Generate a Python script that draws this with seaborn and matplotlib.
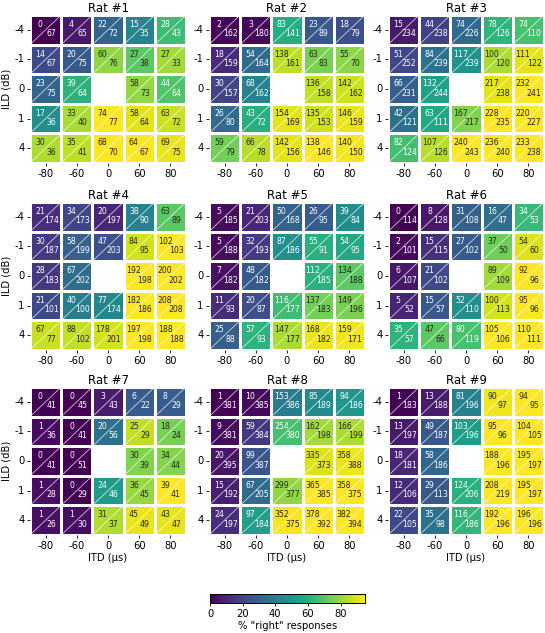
import numpy as np
import pandas as pd
import matplotlib
matplotlib.use("Agg")
from matplotlib import pyplot as plt
import seaborn as sns

# ILD rows (dB) and ITD columns (us); the centre condition (0, 0) was not tested
ILD = [-4, -1, 0, 1, 4]
ITD = [-80, -60, 0, 60, 80]
RATS = ['Rat #1', 'Rat #2', 'Rat #3', 'Rat #4', 'Rat #5', 'Rat #6', 'Rat #7', 'Rat #8', 'Rat #9']

# number of "right" responses / number of trials, per rat
RAT1_RIGHT = [[0, 4, 22, 15, 28], [14, 20, 60, 27, 27], [23, 39, None, 58, 44], [17, 33, 74, 58, 63], [30, 35, 68, 64, 69]]
RAT1_TOTAL = [[67, 65, 72, 35, 43], [67, 75, 76, 38, 33], [75, 64, None, 73, 64], [36, 40, 77, 64, 72], [36, 41, 70, 67, 75]]
RAT2_RIGHT = [[2, 3, 83, 23, 18], [18, 54, 138, 63, 55], [30, 68, None, 136, 142], [26, 43, 154, 135, 146], [59, 66, 142, 138, 140]]
RAT2_TOTAL = [[162, 180, 141, 89, 79], [159, 164, 161, 83, 70], [157, 162, None, 158, 162], [80, 72, 169, 153, 159], [79, 78, 156, 146, 150]]
RAT3_RIGHT = [[15, 44, 74, 78, 74], [51, 84, 117, 100, 111], [66, 132, None, 217, 232], [42, 63, 167, 228, 220], [82, 107, 240, 236, 233]]
RAT3_TOTAL = [[234, 238, 226, 126, 110], [252, 239, 239, 120, 122], [231, 244, None, 238, 241], [121, 111, 217, 235, 227], [124, 126, 243, 240, 238]]
RAT4_RIGHT = [[21, 34, 20, 38, 63], [30, 58, 47, 84, 102], [28, 67, None, 192, 200], [21, 40, 77, 182, 208], [67, 88, 178, 197, 188]]
RAT4_TOTAL = [[174, 173, 197, 90, 89], [187, 199, 203, 95, 103], [183, 202, None, 198, 202], [101, 100, 174, 186, 208], [77, 102, 201, 198, 188]]
RAT5_RIGHT = [[5, 21, 50, 26, 39], [5, 32, 87, 55, 54], [7, 48, None, 112, 134], [11, 20, 116, 137, 149], [25, 57, 147, 168, 159]]
RAT5_TOTAL = [[185, 203, 168, 95, 84], [188, 193, 186, 91, 95], [182, 182, None, 185, 188], [93, 87, 177, 183, 196], [88, 93, 177, 182, 171]]
RAT6_RIGHT = [[0, 8, 31, 16, 34], [2, 15, 27, 37, 54], [6, 21, None, 89, 92], [5, 15, 52, 100, 95], [35, 47, 80, 105, 110]]
RAT6_TOTAL = [[114, 128, 108, 47, 53], [101, 115, 102, 50, 60], [107, 102, None, 109, 96], [52, 57, 110, 113, 96], [57, 66, 119, 106, 111]]
RAT7_RIGHT = [[0, 0, 3, 6, 8], [1, 0, 20, 25, 18], [0, 0, None, 30, 34], [1, 0, 24, 36, 39], [1, 1, 31, 45, 43]]
RAT7_TOTAL = [[41, 45, 43, 22, 29], [36, 41, 56, 29, 24], [41, 51, None, 39, 44], [28, 29, 46, 45, 41], [26, 30, 37, 49, 47]]
RAT8_RIGHT = [[1, 10, 153, 85, 94], [9, 59, 254, 162, 166], [20, 99, None, 335, 358], [15, 67, 299, 365, 358], [24, 97, 352, 378, 382]]
RAT8_TOTAL = [[381, 385, 386, 189, 186], [381, 384, 380, 198, 199], [395, 387, None, 373, 388], [192, 205, 377, 385, 375], [197, 184, 375, 392, 394]]
RAT9_RIGHT = [[1, 13, 81, 90, 94], [13, 49, 103, 95, 104], [18, 58, None, 188, 195], [12, 29, 124, 208, 195], [22, 35, 116, 192, 196]]
RAT9_TOTAL = [[183, 188, 196, 97, 95], [197, 187, 196, 96, 105], [181, 186, None, 196, 197], [106, 113, 206, 219, 197], [105, 98, 186, 196, 196]]

RIGHT = [RAT1_RIGHT, RAT2_RIGHT, RAT3_RIGHT, RAT4_RIGHT, RAT5_RIGHT, RAT6_RIGHT, RAT7_RIGHT, RAT8_RIGHT, RAT9_RIGHT]
TOTAL = [RAT1_TOTAL, RAT2_TOTAL, RAT3_TOTAL, RAT4_TOTAL, RAT5_TOTAL, RAT6_TOTAL, RAT7_TOTAL, RAT8_TOTAL, RAT9_TOTAL]

W, H = 545, 633
fig = plt.figure(figsize=(W / 100, H / 100), dpi=100)

col_x = [30, 209, 388]
row_top = [15, 202, 387]
cw, ch = 156, 148

cax = fig.add_axes([210 / W, 1 - 603 / H, 155 / W, 9 / H])

for k, name in enumerate(RATS):
    r, c = divmod(k, 3)
    ax = fig.add_axes([col_x[c] / W, 1 - (row_top[r] + ch) / H, cw / W, ch / H])
    right = np.array(RIGHT[k], dtype=float)
    total = np.array(TOTAL[k], dtype=float)
    pct = pd.DataFrame(100 * right / total, index=ILD, columns=ITD)

    sns.heatmap(pct, ax=ax, cmap='viridis', vmin=0, vmax=95,
                linewidths=0.8, linecolor='white',
                cbar=(k == 0), cbar_ax=cax if k == 0 else None,
                cbar_kws={'orientation': 'horizontal', 'ticks': [0, 20, 40, 60, 80]})

    for i in range(5):
        for j in range(5):
            if np.isnan(right[i, j]):
                continue
            col = '#262626' if pct.iloc[i, j] >= 70 else 'white'
            ax.plot([j, j + 1], [i + 1, i], color='white', lw=0.6, alpha=0.75)
            ax.text(j + 0.33, i + 0.32, f'{int(right[i, j])}', color=col,
                    fontsize=5.6, ha='center', va='center')
            ax.text(j + 0.68, i + 0.64, f'{int(total[i, j])}', color=col,
                    fontsize=5.6, ha='center', va='center')

    ax.set_title(name, fontsize=8.5, pad=2)
    ax.tick_params(labelsize=7.2, length=2.5, width=0.6, pad=1.5)
    ax.set_yticklabels(ILD, rotation=0)
    ax.set_xticklabels(ITD, rotation=0)
    ax.set_xlabel('ITD (µs)' if r == 2 else '', fontsize=7.2, labelpad=2)
    ax.set_ylabel('ILD (dB)' if c == 0 else '', fontsize=7.2, labelpad=2)

cax.tick_params(labelsize=7.2, length=2.5, width=0.6, pad=1.5)
cax.set_xlabel('% "right" responses', fontsize=7.2, labelpad=2)
for s in cax.spines.values():
    s.set_visible(True)
    s.set_linewidth(0.6)

fig.savefig('out.png', dpi=100)
